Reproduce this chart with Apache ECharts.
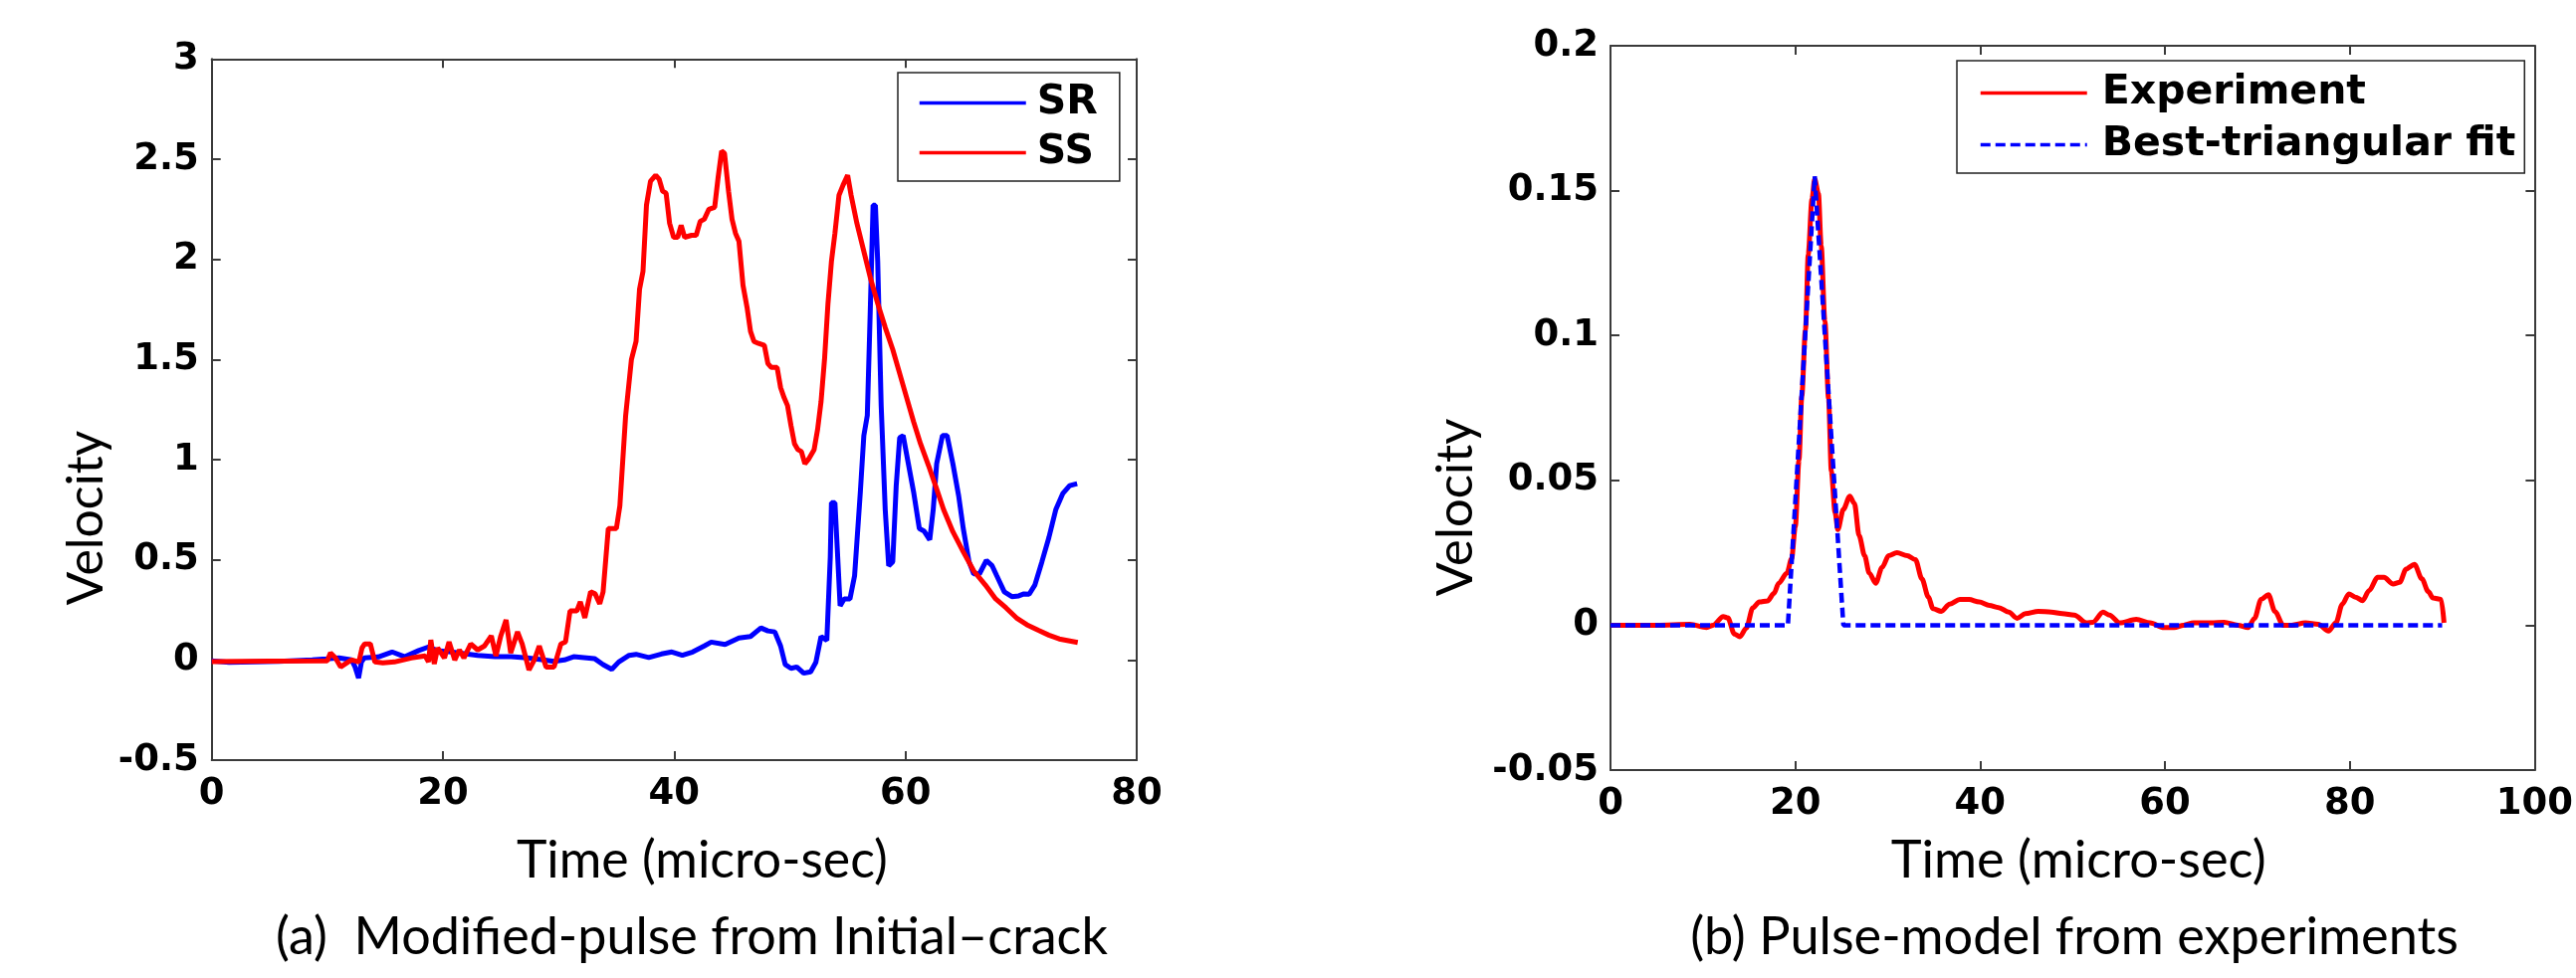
<!DOCTYPE html>
<html>
<head>
<meta charset="utf-8">
<script src="https://cdn.jsdelivr.net/npm/echarts@6/dist/echarts.min.js"></script>
<style>
html,body{margin:0;padding:0;background:#fff;}
#chart{width:2588px;height:983px;}
</style>
</head>
<body>
<div id="chart"></div>
<script>
// ---------------- DATA ----------------
const legendA = ['SR', 'SS'];
const legendB = ['Experiment', 'Best-triangular fit'];

const xTicksA = ['0', '20', '40', '60', '80'];
const yTicksA = ['-0.5', '0', '0.5', '1', '1.5', '2', '2.5', '3'];
const xTicksB = ['0', '20', '40', '60', '80', '100'];
const yTicksB = ['-0.05', '0', '0.05', '0.1', '0.15', '0.2'];

const xTitle = 'Time (micro-sec)';
const yTitle = 'Velocity';
const captionA = '(a)  Modified-pulse from Initial\u2013crack';
const captionB = '(b) Pulse-model from experiments';

// (a) SR – blue  [time, velocity]
const srPoints = [[0,-0.005],[1.5,-0.012],[5.8,-0.007],[8.7,0],[9.9,0.005],[11.0,0.01],[12.1,0],[12.4,-0.035],[12.7,-0.09],[12.95,-0.01],[13.2,0.01],[14.4,0.015],[15.6,0.04],[16.7,0.016],[17.9,0.047],[18.75,0.065],[19.5,0.047],[20.7,0.04],[23.0,0.023],[24.5,0.016],[25.9,0.016],[27.3,0.01],[28.7,0],[29.6,-0.007],[30.5,0],[31.3,0.016],[33.1,0.007],[33.85,-0.023],[34.6,-0.047],[35.2,-0.01],[36.1,0.023],[36.7,0.028],[37.8,0.012],[38.9,0.03],[39.8,0.04],[40.7,0.023],[41.6,0.04],[42.6,0.07],[43.2,0.089],[44.4,0.077],[45.6,0.11],[46.6,0.117],[47.5,0.16],[48.1,0.145],[48.7,0.14],[49.2,0.07],[49.6,-0.023],[50.1,-0.042],[50.6,-0.035],[51.2,-0.066],[51.8,-0.059],[52.25,-0.012],[52.7,0.117],[53.2,0.098],[53.5,0.515],[53.6,0.785],[53.9,0.785],[54.1,0.56],[54.35,0.27],[54.7,0.305],[55.2,0.305],[55.6,0.42],[56.1,0.84],[56.4,1.12],[56.7,1.22],[56.95,1.73],[57.2,2.27],[57.4,2.27],[57.6,1.99],[57.9,1.27],[58.25,0.75],[58.55,0.47],[58.9,0.49],[59.2,0.87],[59.5,1.11],[59.8,1.12],[60.25,0.98],[60.7,0.84],[61.2,0.656],[61.6,0.644],[62.1,0.6],[62.4,0.75],[62.7,0.98],[63.2,1.12],[63.6,1.12],[64.1,0.98],[64.6,0.82],[65.0,0.656],[65.5,0.49],[65.9,0.43],[66.4,0.43],[67.0,0.497],[67.5,0.47],[67.9,0.42],[68.55,0.34],[69.2,0.316],[69.8,0.32],[70.25,0.33],[70.7,0.328],[71.2,0.375],[71.8,0.49],[72.4,0.61],[73.0,0.75],[73.6,0.83],[74.2,0.87],[74.85,0.88]];

// (a) SS – red  [time, velocity]
const ssPoints = [[0,-0.008],[5,-0.006],[10,-0.004],[10.27,0.035],[10.7,0.01],[11.15,-0.035],[11.8,-0.01],[12.14,0],[12.73,-0.01],[13.0,0.06],[13.23,0.08],[13.72,0.08],[14.11,-0.01],[14.8,-0.015],[15.8,-0.01],[17.27,0.01],[18.46,0.02],[18.75,-0.01],[18.95,0.1],[19.25,-0.02],[19.54,0.06],[20.13,0.01],[20.53,0.09],[21.02,0],[21.42,0.05],[21.81,0.01],[22.4,0.08],[23.0,0.05],[23.59,0.07],[24.18,0.12],[24.58,0.02],[25.0,0.12],[25.46,0.2],[25.86,0.035],[26.45,0.14],[26.85,0.08],[27.44,-0.05],[27.9,0],[28.33,0.07],[28.92,-0.035],[29.61,-0.035],[30.2,0.08],[30.6,0.09],[30.99,0.245],[31.58,0.245],[31.88,0.29],[32.27,0.21],[32.77,0.34],[33.16,0.33],[33.56,0.28],[33.85,0.34],[34.3,0.656],[35.0,0.656],[35.3,0.77],[35.8,1.22],[36.3,1.5],[36.7,1.59],[37.0,1.85],[37.3,1.94],[37.6,2.27],[37.95,2.39],[38.4,2.42],[38.7,2.4],[39.0,2.34],[39.3,2.33],[39.6,2.18],[39.95,2.11],[40.3,2.11],[40.6,2.17],[40.9,2.11],[41.5,2.12],[41.9,2.12],[42.25,2.19],[42.6,2.2],[43.0,2.25],[43.5,2.26],[43.8,2.41],[44.1,2.54],[44.35,2.53],[44.7,2.34],[45.0,2.2],[45.3,2.13],[45.6,2.09],[45.95,1.87],[46.3,1.76],[46.6,1.64],[46.9,1.59],[47.3,1.58],[47.8,1.57],[48.1,1.48],[48.4,1.46],[48.9,1.46],[49.2,1.36],[49.5,1.31],[49.8,1.27],[50.1,1.17],[50.4,1.08],[50.7,1.05],[51.0,1.04],[51.3,0.98],[51.6,1.0],[52.1,1.05],[52.4,1.15],[52.7,1.29],[53.0,1.5],[53.3,1.78],[53.6,1.99],[53.9,2.13],[54.25,2.32],[54.6,2.37],[55.0,2.42],[55.3,2.32],[55.8,2.18],[56.4,2.04],[57.0,1.9],[57.6,1.78],[58.25,1.66],[58.9,1.55],[59.5,1.43],[60.1,1.31],[60.7,1.19],[61.3,1.08],[62.0,0.97],[62.6,0.87],[63.3,0.75],[64.1,0.64],[65.0,0.54],[65.9,0.445],[66.9,0.375],[67.8,0.305],[68.7,0.26],[69.6,0.21],[70.5,0.176],[71.5,0.148],[72.4,0.124],[73.3,0.105],[74.9,0.087]];

// (b) Experiment – red  [time, velocity]
const expPoints = [[0,0],[5,0],[8.6,0.0003],[10.4,-0.0008],[11.1,0],[12.2,0.003],[12.7,0.0025],[13.4,-0.003],[14.0,-0.004],[14.7,-0.001],[15.4,0.006],[16.1,0.008],[17.0,0.0084],[17.7,0.011],[18.2,0.0145],[19.1,0.018],[19.6,0.023],[20.0,0.034],[20.4,0.057],[20.7,0.079],[21.1,0.102],[21.4,0.128],[21.8,0.147],[22.1,0.154],[22.5,0.149],[22.8,0.131],[23.2,0.105],[23.6,0.078],[23.9,0.053],[24.3,0.039],[24.6,0.033],[25.2,0.04],[25.9,0.0445],[26.4,0.042],[26.9,0.031],[27.5,0.024],[28.0,0.018],[28.7,0.0145],[29.4,0.02],[30.1,0.024],[31.0,0.025],[32.1,0.024],[33.0,0.0226],[33.7,0.016],[34.4,0.0097],[34.9,0.0057],[35.8,0.0048],[36.7,0.0073],[37.8,0.0089],[38.8,0.0089],[39.9,0.008],[41.0,0.0068],[42.0,0.0061],[43.1,0.0045],[44.0,0.0024],[44.9,0.004],[46.3,0.0048],[47.7,0.0045],[48.9,0.004],[50.2,0.0035],[51.5,0.0008],[52.2,0.001],[53.3,0.0045],[54.0,0.0035],[55.1,0.0008],[56.9,0.002],[58.4,0.0008],[59.9,-0.0008],[61.0,-0.0008],[62.0,0],[63.1,0.0008],[65.0,0.0008],[66.4,0.001],[67.9,0],[69.0,-0.0008],[69.7,0.0024],[70.4,0.0089],[71.2,0.0105],[71.9,0.0048],[72.8,0],[73.7,0],[75.2,0.0008],[76.6,0.0003],[77.7,-0.002],[78.5,0.0008],[79.2,0.0073],[79.9,0.0108],[80.6,0.0097],[81.4,0.0085],[82.1,0.012],[83.0,0.0165],[83.7,0.0165],[84.7,0.0142],[85.4,0.0148],[86.1,0.0194],[87.0,0.021],[87.8,0.016],[88.5,0.0116],[89.0,0.0094],[89.9,0.0089],[90.2,0.0008]];

// (b) Best-triangular fit – blue dashed  [time, velocity]
const fitPoints = [[0,0],[19.2,0],[22.1,0.155],[25.2,0],[90,0]];

// ---------------- STYLE / LAYOUT ----------------
const RED = '#ff0000', BLUE = '#0000ff', FRAME = '#3a3a3a';
const BOLD_FONT = 'DejaVu Sans';
const REG_FONT = 'Lato';
const TICK_SIZE = 37;

function fitFont(text, family, targetWidth) {
  const ctx = document.createElement('canvas').getContext('2d');
  ctx.font = '100px "' + family + '"';
  return 100 * targetWidth / ctx.measureText(text).width;
}
const timeSizeA = fitFont(xTitle, REG_FONT, 373);
const timeSizeB = fitFont(xTitle, REG_FONT, 377);
const velSizeA = fitFont(yTitle, REG_FONT, 176);
const velSizeB = fitFont(yTitle, REG_FONT, 179);
const capSizeA = fitFont(captionA, REG_FONT, 836);
const capSizeB = fitFont(captionB, REG_FONT, 772);

function labelFmt(labels, min, step) {
  return function (v) {
    const i = Math.round((v - min) / step);
    return labels[i] !== undefined ? labels[i] : '';
  };
}

function mainAxisLabel(labels, min, step, margin) {
  return {
    show: true, margin: margin, color: '#000',
    fontFamily: BOLD_FONT, fontWeight: 'bold', fontSize: TICK_SIZE,
    formatter: labelFmt(labels, min, step)
  };
}
const lineSty = { show: true, onZero: false, lineStyle: { color: FRAME, width: 2 } };
const tickSty = { show: true, inside: true, length: 9, lineStyle: { color: FRAME, width: 2 } };

function xAxisDef(grid, min, max, step, labels, pos, nameSize, nameGap, shift) {
  const main = pos === 'bottom';
  const ax = {
    type: 'value', gridIndex: grid, position: pos, min: min, max: max, interval: step,
    axisLine: lineSty, axisTick: tickSty, splitLine: { show: false },
    axisLabel: main ? mainAxisLabel(labels, min, step, 16) : { show: false }
  };
  if (main) {
    ax.name = xTitle; ax.nameLocation = 'middle'; ax.nameGap = nameGap;
    ax.nameTextStyle = { fontFamily: REG_FONT, fontSize: nameSize, color: '#000',
      padding: [0, 0, 0, shift * 2] };
  }
  return ax;
}
function yAxisDef(grid, min, max, step, labels, pos, nameSize, nameGap, down, margin) {
  const main = pos === 'left';
  const ax = {
    type: 'value', gridIndex: grid, position: pos, min: min, max: max, interval: step,
    axisLine: lineSty, axisTick: tickSty, splitLine: { show: false },
    axisLabel: main ? mainAxisLabel(labels, min, step, margin) : { show: false }
  };
  if (main) {
    ax.name = yTitle; ax.nameLocation = 'middle'; ax.nameGap = nameGap; ax.nameRotate = 90;
    ax.nameTextStyle = { fontFamily: REG_FONT, fontSize: nameSize, color: '#000',
      padding: [0, down * 2, 0, 0] };
  }
  return ax;
}

const legendText = { fontFamily: BOLD_FONT, fontWeight: 'bold', fontSize: 41, color: '#000', lineHeight: 40 };
// hide the marker dot that line-series legend icons draw; keep only the line
const legendItemStyle = { opacity: 0, color: 'transparent', borderWidth: 0 };

const option = {
  animation: false,
  backgroundColor: '#fff',
  grid: [
    { left: 212.7, top: 59.3, width: 929.3, height: 704.7, containLabel: false },
    { left: 1618, top: 46, width: 939, height: 728, containLabel: false }
  ],
  xAxis: [
    xAxisDef(0, 0, 80, 20, xTicksA, 'bottom', timeSizeA, 75, 28),
    xAxisDef(0, 0, 80, 20, xTicksA, 'top'),
    xAxisDef(1, 0, 100, 20, xTicksB, 'bottom', timeSizeB, 65, 6),
    xAxisDef(1, 0, 100, 20, xTicksB, 'top')
  ],
  yAxis: [
    yAxisDef(0, -0.5, 3, 0.5, yTicksA, 'left', velSizeA, 101, 109, 13),
    yAxisDef(0, -0.5, 3, 0.5, yTicksA, 'right'),
    yAxisDef(1, -0.05, 0.2, 0.05, yTicksB, 'left', velSizeB, 130, 100, 12),
    yAxisDef(1, -0.05, 0.2, 0.05, yTicksB, 'right')
  ],
  legend: [
    {
      data: legendA, orient: 'vertical', left: 902, top: 73,
      padding: [10, 22, 8, 20], itemWidth: 107, itemHeight: 40, itemGap: 9,
      backgroundColor: '#fff', borderColor: '#222', borderWidth: 1.5, borderRadius: 0,
      textStyle: Object.assign({ padding: [0, 0, 0, 6] }, legendText),
      itemStyle: legendItemStyle, lineStyle: { width: 3.5 }, selectedMode: false
    },
    {
      data: legendB, orient: 'vertical', left: 1966, top: 61,
      padding: [12, 9, 8, 22], itemWidth: 107, itemHeight: 40, itemGap: 11,
      backgroundColor: '#fff', borderColor: '#222', borderWidth: 1.5, borderRadius: 0,
      textStyle: Object.assign({ padding: [0, 0, 0, 10] }, legendText),
      itemStyle: legendItemStyle, lineStyle: { width: 3.5 }, selectedMode: false
    }
  ],
  series: [
    { name: legendA[0], type: 'line', xAxisIndex: 0, yAxisIndex: 0, data: srPoints,
      symbol: 'none', lineStyle: { color: BLUE, width: 5 }, itemStyle: { color: BLUE } },
    { name: legendA[1], type: 'line', xAxisIndex: 0, yAxisIndex: 0, data: ssPoints,
      symbol: 'none', lineStyle: { color: RED, width: 5 }, itemStyle: { color: RED } },
    { name: legendB[0], type: 'line', xAxisIndex: 2, yAxisIndex: 2, data: expPoints,
      symbol: 'none', smooth: 0.3, smoothMonotone: 'x',
      lineStyle: { color: RED, width: 5 }, itemStyle: { color: RED } },
    { name: legendB[1], type: 'line', xAxisIndex: 2, yAxisIndex: 2, data: fitPoints,
      symbol: 'none', lineStyle: { color: BLUE, width: 4.5, type: [10, 5] }, itemStyle: { color: BLUE } }
  ],
  graphic: [
    { type: 'text', x: 695, y: 942, style: { text: captionA, fill: '#000',
      font: capSizeA.toFixed(1) + 'px "' + REG_FONT + '"', align: 'center', verticalAlign: 'middle' } },
    { type: 'text', x: 2084, y: 942, style: { text: captionB, fill: '#000',
      font: capSizeB.toFixed(1) + 'px "' + REG_FONT + '"', align: 'center', verticalAlign: 'middle' } }
  ]
};

const chart = echarts.init(document.getElementById('chart'), null, { renderer: 'canvas', width: 2588, height: 983 });
chart.setOption(option);
</script>
</body>
</html>
